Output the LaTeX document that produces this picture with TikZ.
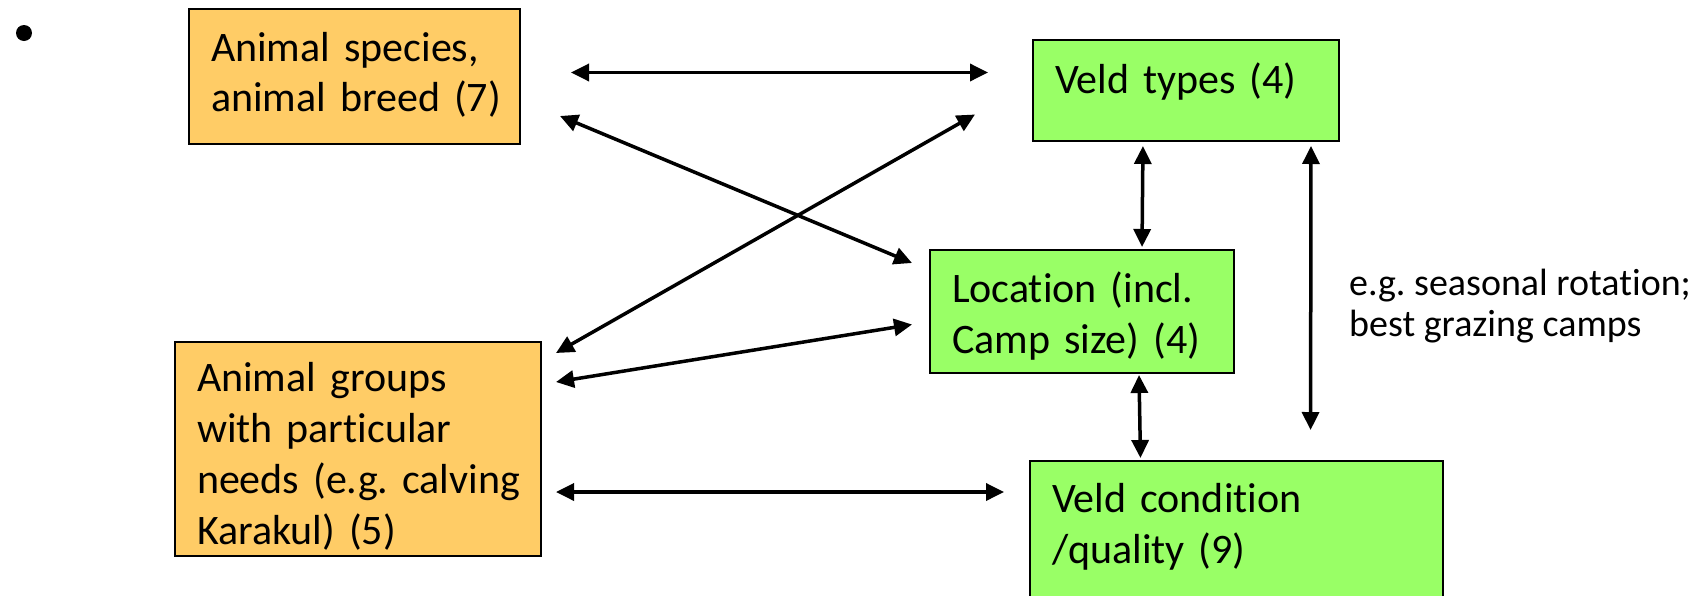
\documentclass[tikz,border=0pt]{standalone}
\usepackage{fontspec}
\setmainfont{Carlito}[Ligatures=NoCommon]
\usetikzlibrary{arrows.meta}
\definecolor{boxorange}{RGB}{255,204,102}
\definecolor{boxgreen}{RGB}{153,255,102}
\begin{document}
\frenchspacing
\begin{tikzpicture}[x=1pt,y=-1pt,
  box/.style={draw=black, line width=2pt, anchor=north west, inner xsep=22pt, inner ysep=0pt,
    align=left, font=\fontsize{42}{51}\selectfont},
  orangebox/.style={box, fill=boxorange},
  greenbox/.style={box, fill=boxgreen},
  arr/.style={line width=3.5pt, {Triangle[length=18pt,width=17pt]}-{Triangle[length=18pt,width=17pt]}},
  note/.style={anchor=north west, align=left, inner sep=0pt, font=\fontsize{38}{41}\selectfont}]
\useasboundingbox (0,0) rectangle (1702,595);

\node[circle, fill=black, inner sep=0pt, minimum size=16pt] (bullet) at (24,33) {};

\node[orangebox, text width=287pt, text height=52pt, text depth=83pt, font=\fontsize{42}{50}\selectfont] (species) at (188,8)
  {\mbox{Animal species,}\\\mbox{animal breed (7)}};
\node[greenbox, text width=262pt, text height=53pt, text depth=48pt] (veld) at (1032,39)
  {\mbox{Veld types (4)}};
\node[greenbox, text width=260pt, text height=52pt, text depth=71pt] (loc) at (929,249)
  {\mbox{Location (incl.}\\\mbox{Camp size) (4)}};
\node[orangebox, text width=322pt, text height=49pt, text depth=165pt] (groups) at (174,341)
  {\mbox{Animal groups}\\\mbox{with particular}\\\mbox{needs (e.g. calving}\\\mbox{Karakul) (5)}};
\node[greenbox, text width=369pt, text height=51pt, text depth=150pt] (cond) at (1029,460)
  {\mbox{Veld condition}\\\mbox{/quality (9)}};

\node[note] (eg) at (1349,269) {\mbox{e.g. seasonal rotation;}\\\mbox{best grazing camps}};

% connectors
\draw[arr, shorten <=50pt, shorten >=44pt] ([yshift=4pt]species.east) -- ([yshift=18pt]veld.west);
\draw[arr] ([xshift=39pt,yshift=29pt]species.south east) -- ([xshift=-17pt,yshift=-14pt]loc.north west);
\draw[arr] ([xshift=-57pt,yshift=-24pt]veld.west) -- ([xshift=14pt,yshift=-12pt]groups.north east);
\draw[arr] ([xshift=14pt,yshift=-41pt]groups.north east) -- ([xshift=-17pt,yshift=-13pt]loc.west);
\draw[arr] ([xshift=14pt,yshift=-151pt]groups.north east) -- ([xshift=-25pt,yshift=-32pt]cond.north west);
\draw[arr, shorten <=4pt, shorten >=2pt] ([xshift=-43pt]veld.south) -- ([xshift=60pt]loc.north);
\draw[arr, shorten <=1pt, shorten >=2pt] ([xshift=57pt]loc.south) -- ([xshift=-96pt]cond.north);
\draw[arr, shorten <=4pt, shorten >=30pt] ([xshift=125pt]veld.south) -- ([xshift=74pt]cond.north);
\end{tikzpicture}
\end{document}
